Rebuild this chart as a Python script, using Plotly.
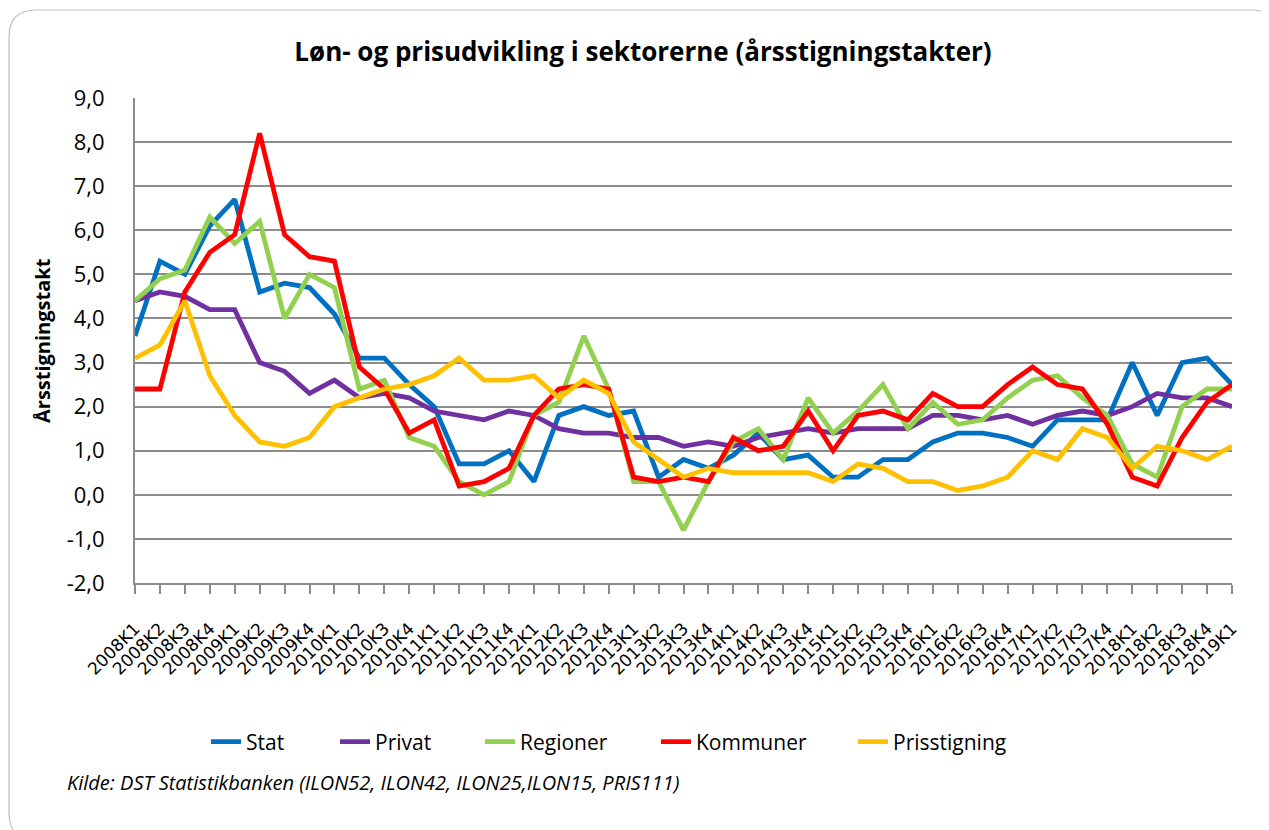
import plotly.graph_objects as go

# ---------------- data ----------------
quarters = ["2008K1", "2008K2", "2008K3", "2008K4", "2009K1", "2009K2", "2009K3", "2009K4",
            "2010K1", "2010K2", "2010K3", "2010K4", "2011K1", "2011K2", "2011K3", "2011K4",
            "2012K1", "2012K2", "2012K3", "2012K4", "2013K1", "2013K2", "2013K3", "2013K4",
            "2014K1", "2014K2", "2014K3", "2013K4", "2015K1", "2015K2", "2015K3", "2015K4",
            "2016K1", "2016K2", "2016K3", "2016K4", "2017K1", "2017K2", "2017K3", "2017K4",
            "2018K1", "2018K2", "2018K3", "2018K4", "2019K1"]

stat = [3.6, 5.3, 5.0, 6.1, 6.7, 4.6, 4.8, 4.7, 4.1, 3.1, 3.1, 2.5, 2.0, 0.7, 0.7, 1.0,
        0.3, 1.8, 2.0, 1.8, 1.9, 0.4, 0.8, 0.6, 0.9, 1.4, 0.8, 0.9, 0.4, 0.4, 0.8, 0.8,
        1.2, 1.4, 1.4, 1.3, 1.1, 1.7, 1.7, 1.7, 3.0, 1.8, 3.0, 3.1, 2.5]
privat = [4.4, 4.6, 4.5, 4.2, 4.2, 3.0, 2.8, 2.3, 2.6, 2.2, 2.3, 2.2, 1.9, 1.8, 1.7, 1.9,
          1.8, 1.5, 1.4, 1.4, 1.3, 1.3, 1.1, 1.2, 1.1, 1.3, 1.4, 1.5, 1.4, 1.5, 1.5, 1.5,
          1.8, 1.8, 1.7, 1.8, 1.6, 1.8, 1.9, 1.8, 2.0, 2.3, 2.2, 2.2, 2.0]
regioner = [4.4, 4.9, 5.1, 6.3, 5.7, 6.2, 4.0, 5.0, 4.7, 2.4, 2.6, 1.3, 1.1, 0.3, 0.0, 0.3,
            1.8, 2.1, 3.6, 2.4, 0.3, 0.3, -0.8, 0.3, 1.2, 1.5, 0.8, 2.2, 1.4, 1.9, 2.5, 1.5,
            2.1, 1.6, 1.7, 2.2, 2.6, 2.7, 2.2, 1.8, 0.7, 0.4, 2.0, 2.4, 2.4]
kommuner = [2.4, 2.4, 4.6, 5.5, 5.9, 8.2, 5.9, 5.4, 5.3, 2.9, 2.4, 1.4, 1.7, 0.2, 0.3, 0.6,
            1.8, 2.4, 2.5, 2.4, 0.4, 0.3, 0.4, 0.3, 1.3, 1.0, 1.1, 1.9, 1.0, 1.8, 1.9, 1.7,
            2.3, 2.0, 2.0, 2.5, 2.9, 2.5, 2.4, 1.6, 0.4, 0.2, 1.3, 2.1, 2.5]
prisstigning = [3.1, 3.4, 4.4, 2.7, 1.8, 1.2, 1.1, 1.3, 2.0, 2.2, 2.4, 2.5, 2.7, 3.1, 2.6, 2.6,
                2.7, 2.2, 2.6, 2.3, 1.2, 0.8, 0.4, 0.6, 0.5, 0.5, 0.5, 0.5, 0.3, 0.7, 0.6, 0.3,
                0.3, 0.1, 0.2, 0.4, 1.0, 0.8, 1.5, 1.3, 0.6, 1.1, 1.0, 0.8, 1.1]

series_names = ["Stat", "Privat", "Regioner", "Kommuner", "Prisstigning"]
series_values = [stat, privat, regioner, kommuner, prisstigning]
series_colors = ["#0070C0", "#7030A0", "#92D050", "#FF0000", "#FFC000"]

y_ticks = [-2, -1, 0, 1, 2, 3, 4, 5, 6, 7, 8, 9]
y_tick_labels = [f"{v:.1f}".replace(".", ",") for v in y_ticks]

title_text = "Løn- og prisudvikling i sektorerne (årsstigningstakter)"
y_title = "Årsstigningstakt"
source_text = "Kilde: DST Statistikbanken (ILON52, ILON42, ILON25,ILON15, PRIS111)"

# ---------------- layout geometry ----------------
# the page body adds an 8px margin, so figure coords = screen coords - 8
OFF = 8
W, H = 1269 - OFF, 830 - OFF
L, R, T, B = 135 - OFF, 1232 - OFF, 98 - OFF, 583 - OFF


def px_x(sx):
    return (sx - OFF - L) / (R - L)


def px_y(sy):
    return (B - (sy - OFF)) / (B - T)


x_idx = list(range(len(quarters)))

# legend text start (screen px) for each series
legend_text_x = [248, 377, 522, 698, 895]
legend_y = 742

fig = go.Figure()
layout_legends = {}
for i, (name, vals, col) in enumerate(zip(series_names, series_values, series_colors)):
    lname = "legend" if i == 0 else f"legend{i + 1}"
    fig.add_trace(go.Scatter(
        x=x_idx, y=vals, name=name, mode="lines",
        line=dict(color=col, width=4.8), legend=lname,
    ))
    layout_legends[lname] = dict(
        orientation="h", x=px_x(legend_text_x[i] - 42), xanchor="left",
        y=px_y(legend_y), yanchor="middle",
        font=dict(family="Open Sans", size=21, color="black"),
        bgcolor="rgba(0,0,0,0)", borderwidth=0,
    )

GRID = "#8C8C8C"
FONT = "Open Sans"

fig.update_layout(
    width=W, height=H,
    margin=dict(l=L, r=W - R, t=T, b=H - B, pad=0),
    paper_bgcolor="white", plot_bgcolor="white",
    font=dict(family=FONT, color="black"),
    title=dict(text="<b>" + title_text + "</b>", x=(643 - OFF) / W, xanchor="center",
               y=1 - (52 - OFF) / H, yanchor="middle", xref="container", yref="container",
               font=dict(size=26, family=FONT, color="black")),
    xaxis=dict(
        range=[0, len(quarters) - 1], tickmode="array", tickvals=x_idx, ticktext=quarters,
        tickangle=-45, tickfont=dict(family="DejaVu Sans", size=17, color="black"),
        showgrid=False, zeroline=False, showline=True, linecolor=GRID, linewidth=2,
        ticks="outside", ticklen=9, tickcolor=GRID, tickwidth=2, ticklabelstandoff=18,
    ),
    yaxis=dict(
        range=[-2, 9], tickmode="array", tickvals=y_ticks, ticktext=y_tick_labels,
        tickfont=dict(family=FONT, size=22, color="black"),
        showgrid=True, gridcolor=GRID, gridwidth=2, zeroline=False,
        showline=True, linecolor=GRID, linewidth=2, ticks="", ticklabelstandoff=24,
    ),
    showlegend=True,
    **layout_legends,
)

fig.add_annotation(text="<b>" + y_title + "</b>", textangle=-90, x=px_x(42), y=px_y(340),
                   xref="paper", yref="paper", showarrow=False, xanchor="center", yanchor="middle",
                   font=dict(family=FONT, size=20, color="black"))
fig.add_annotation(text="<i>" + source_text + "</i>", x=px_x(65), y=px_y(783),
                   xref="paper", yref="paper", showarrow=False, xanchor="left", yanchor="middle",
                   font=dict(family=FONT, size=20, color="black"))

# rounded chart border (screen px)
x0, y0, x1, y1, r = 9, 10, 1278, 840, 27
path = (f"M {px_x(x0)},{px_y(y0 + r)} "
        f"Q {px_x(x0)},{px_y(y0)} {px_x(x0 + r)},{px_y(y0)} "
        f"L {px_x(x1 - r)},{px_y(y0)} "
        f"Q {px_x(x1)},{px_y(y0)} {px_x(x1)},{px_y(y0 + r)} "
        f"L {px_x(x1)},{px_y(y1 - r)} "
        f"Q {px_x(x1)},{px_y(y1)} {px_x(x1 - r)},{px_y(y1)} "
        f"L {px_x(x0 + r)},{px_y(y1)} "
        f"Q {px_x(x0)},{px_y(y1)} {px_x(x0)},{px_y(y1 - r)} Z")
fig.add_shape(type="path", path=path, xref="paper", yref="paper",
              line=dict(color="#BFBFBF", width=1.2), layer="below")

fig.write_html("out.html")
